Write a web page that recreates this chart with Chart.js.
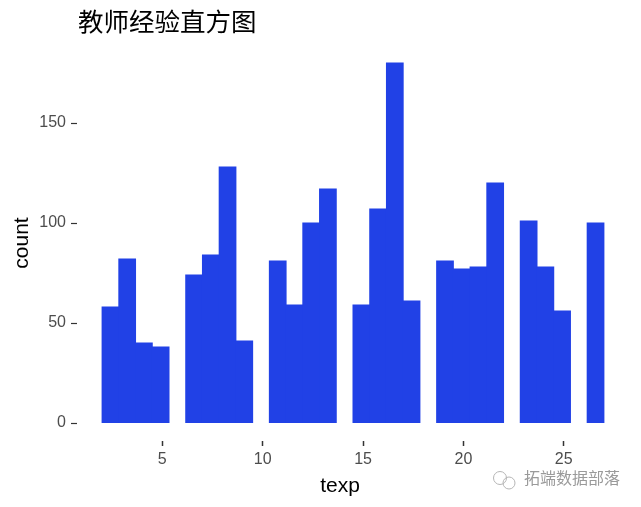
<!DOCTYPE html>
<html>
<head>
<meta charset="utf-8">
<script src="https://cdn.jsdelivr.net/npm/chart.js@4"></script>
<style>
  html, body { margin: 0; padding: 0; background: #fff; }
  #wrap { width: 641px; height: 507px; }
</style>
</head>
<body>
<div id="wrap"><canvas id="histChart"></canvas></div>
<script>
"use strict";

// histogram of texp: 30 bins from 2 to 27
const binStart = 2;
const binWidth = 25 / 30;
const counts = [58, 82, 40, 38, 0, 74, 84, 128, 41, 0,
                81, 59, 100, 117, 0, 59, 107, 180, 61, 0,
                81, 77, 78, 120, 0, 101, 78, 56, 0, 100];
const xTicks = [5, 10, 15, 20, 25];
const yTicks = [0, 50, 100, 150];

const titleText = "教师经验直方图";
const xTitle = "texp";
const yTitle = "count";
const watermark = "拓端数据部落";

// empty bins are left out so no hairline is drawn for them
const points = counts.map((c, i) => ({ x: binStart + (i + 0.5) * binWidth, y: c === 0 ? null : c }));

const sansFont = "'Liberation Sans', Arial, sans-serif";

// titles and the watermark, drawn on top of the canvas
const textPlugin = {
  id: "texts",
  afterDraw(chart) {
    const ctx = chart.ctx;
    const area = chart.chartArea;
    ctx.save();
    ctx.fillStyle = "#000";
    ctx.font = "25.5px 'Noto Sans CJK SC', sans-serif";
    ctx.textAlign = "left";
    ctx.textBaseline = "middle";
    ctx.fillText(titleText, area.left + 1, 21);

    ctx.font = "21px " + sansFont;
    ctx.textAlign = "center";
    ctx.fillText(xTitle, 340, 486);

    ctx.translate(22, (area.top + area.bottom) / 2);
    ctx.rotate(-Math.PI / 2);
    ctx.fillText(yTitle, 0, 0);
    ctx.restore();

    // watermark with a little chat icon
    ctx.save();
    ctx.strokeStyle = "#b5b5b5";
    ctx.lineWidth = 1;
    ctx.beginPath();
    ctx.arc(500, 478, 6.5, 0, Math.PI * 2);
    ctx.stroke();
    ctx.beginPath();
    ctx.arc(509, 483, 6, 0, Math.PI * 2);
    ctx.stroke();
    ctx.fillStyle = "#9a9a9a";
    ctx.font = "16px 'Noto Sans CJK SC', sans-serif";
    ctx.textAlign = "left";
    ctx.textBaseline = "middle";
    ctx.fillText(watermark, 524, 478);
    ctx.restore();
  }
};

new Chart(document.getElementById("histChart"), {
  type: "bar",
  data: {
    datasets: [
      {
        label: "count",
        data: points,
        backgroundColor: "#2141e6",
        borderWidth: 0,
        inflateAmount: 0.5,
        barPercentage: 1,
        categoryPercentage: 1,
      },
    ],
  },
  options: {
    responsive: true,
    maintainAspectRatio: false,
    animation: false,
    layout: { padding: { top: 45, right: 12, left: 0, bottom: 0 } },
    plugins: {
      legend: { display: false },
      tooltip: { enabled: false },
    },
    scales: {
      x: {
        type: "linear",
        offset: false,
        min: 0.75,
        max: 28.25,
        afterBuildTicks: (scale) => { scale.ticks = xTicks.map((v) => ({ value: v })); },
        afterFit: (scale) => { scale.height = 66; },
        border: { display: false },
        grid: { offset: false, drawOnChartArea: false, tickLength: 5, tickColor: "#333", tickWidth: 1.5 },
        ticks: { color: "#4d4d4d", font: { family: sansFont, size: 16 }, padding: 4, maxRotation: 0 },
      },
      y: {
        min: -9,
        max: 189,
        afterBuildTicks: (scale) => { scale.ticks = yTicks.map((v) => ({ value: v })); },
        afterFit: (scale) => { scale.width = 77; },
        border: { display: false },
        grid: { drawOnChartArea: false, tickLength: 6, tickColor: "#333", tickWidth: 1.2 },
        ticks: { color: "#4d4d4d", font: { family: sansFont, size: 16 }, padding: 5 },
      },
    },
  },
  plugins: [textPlugin],
});
</script>
</body>
</html>
